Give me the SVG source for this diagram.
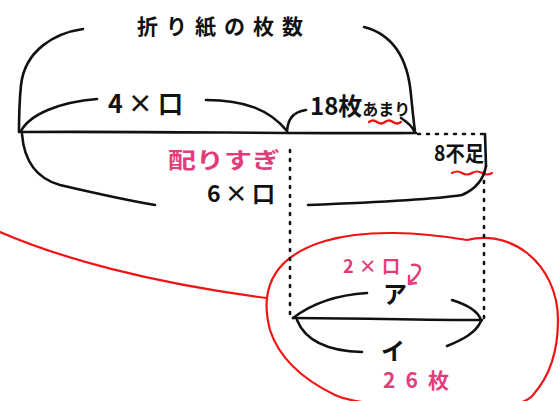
<svg xmlns="http://www.w3.org/2000/svg" width="560" height="401" viewBox="0 0 560 401">
<style>
.ink{fill:none;stroke:#111;stroke-width:2.6;stroke-linecap:round;stroke-linejoin:round}
.dot{fill:none;stroke:#111;stroke-width:2.6;stroke-linecap:round;stroke-dasharray:2 7}
.red{fill:none;stroke:#f01414;stroke-width:2.2;stroke-linecap:round;stroke-linejoin:round}
.pinkline{fill:none;stroke:#e23d7a;stroke-width:2.4;stroke-linecap:round;stroke-linejoin:round}
.t{font-family:"Noto Sans CJK JP","Noto Sans",sans-serif;font-weight:700;fill:#111}
.p{font-family:"Noto Sans CJK JP","Noto Sans",sans-serif;font-weight:700;fill:#e23d7a}
</style>
<rect width="560" height="401" fill="#fff"/>
<g id="connectors">
  <path class="red" d="M0,232 C60,258 150,283 267,298"/>
  <path class="red" d="M267,298 C270,272 288,252 325,241 C365,229 420,232 467,240 C482,236 505,236 527,253 C546,268 558,292 558,320 C558,352 550,376 533,395 C520,410 470,412 420,408 C380,405 350,402 335,395 C300,378 278,355 270,330 C267,318 266,306 267,298"/>
  <path class="ink" d="M83,29 C55,33 25,50 21,85 C19,105 19,120 19,132"/>
  <path class="ink" d="M364,27 C395,35 408,60 411,95 C413,115 414,125 415,131"/>
  <path class="ink" d="M97,99 C60,102 30,114 21,131"/>
  <path class="ink" d="M206,100 C245,100 270,110 287,131"/>
  <path class="ink" d="M287,131 C288,120 292,112 306,110"/>
  <path class="ink" d="M401,118 C407,122 412,126 414,131"/>
  <path class="ink" d="M19,132 C150,131 300,134 416,133"/>
  <path class="dot" d="M418,134 L484,134"/>
  <path class="ink" d="M485,134 L486,166"/>
  <path class="ink" d="M22,134 C24,160 35,178 60,185 C90,192 125,200 155,205"/>
  <path class="ink" d="M308,205 C360,203 430,200 462,195 C478,188 484,178 486,166"/>
  <path class="red" d="M369,122 q4,-3 8,0 t8,0 t8,0 t8,0"/>
  <path class="red" d="M452,173 q5,-3 10,0 t10,0 t10,0 t10,0"/>
  <path class="dot" d="M290,150 L290,318"/>
  <path class="dot" d="M484,172 L484,318"/>
  <path class="ink" d="M293,318 C350,318 420,320 482,320"/>
  <path class="ink" d="M293,318 C310,305 335,295 367,293"/>
  <path class="ink" d="M452,300 C468,305 478,311 481,320"/>
  <path class="ink" d="M481,321 C476,333 462,340 447,346"/>
  <path class="ink" d="M297,320 C305,340 325,351 362,352"/>
  <path class="pinkline" d="M412,265 C418,264 422,267 419,272 C417,277 413,280 409,283"/>
  <path class="pinkline" d="M409,276 L409,284 L416,283"/>
</g>
<g id="title"><text class="t" x="137" y="34" font-size="21" textLength="166" lengthAdjust="spacing">折り紙の枚数</text></g>
<g id="label-4x"><text class="t" x="108" y="113" font-size="25" textLength="75" lengthAdjust="spacing">4×口</text></g>
<g id="label-18"><text class="t" x="310" y="115" font-size="24">18枚<tspan font-size="16">あまり</tspan></text></g>
<g id="label-kubari"><text class="p" x="168" y="168" font-size="22" textLength="112" lengthAdjust="spacingAndGlyphs">配りすぎ</text></g>
<g id="label-6x"><text class="t" x="207" y="202" font-size="23" textLength="68" lengthAdjust="spacing">6×口</text></g>
<g id="label-8"><text class="t" x="434" y="161" font-size="21" textLength="50" lengthAdjust="spacingAndGlyphs">8不足</text></g>
<g id="label-2x"><text class="p" x="343" y="273" font-size="18" textLength="57" lengthAdjust="spacing">2×口</text></g>
<g id="label-a"><text class="t" x="383" y="303" font-size="24">ア</text></g>
<g id="label-i"><text class="t" x="381" y="360" font-size="24">イ</text></g>
<g id="label-26"><text class="p" x="383" y="388" font-size="21" textLength="66" lengthAdjust="spacing">26枚</text></g>
</svg>
